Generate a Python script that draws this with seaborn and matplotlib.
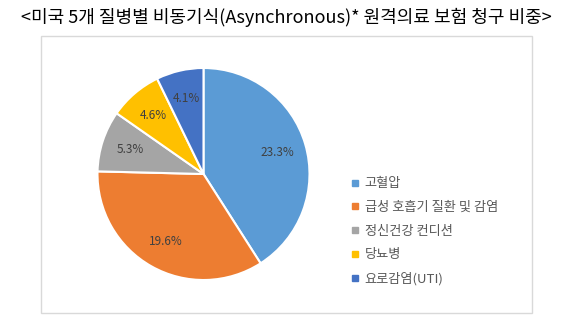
import matplotlib
matplotlib.use("Agg")
import matplotlib.pyplot as plt
import seaborn as sns
from matplotlib.patches import Rectangle
from matplotlib.lines import Line2D

categories = ["고혈압", "급성 호흡기 질환 및 감염", "정신건강 컨디션", "당뇨병", "요로감염(UTI)"]
values = [23.3, 19.6, 5.3, 4.6, 4.1]
value_labels = ["23.3%", "19.6%", "5.3%", "4.6%", "4.1%"]
colors = ["#5B9BD5", "#ED7D31", "#A5A5A5", "#FFC000", "#4472C4"]
title = "<미국 5개 질병별 비동기식(Asynchronous)* 원격의료 보험 청구 비중>"

sns.set_theme(style="white")
plt.rcParams['font.family'] = ['Noto Sans CJK KR', 'DejaVu Sans']

W, H = 571, 320
fig = plt.figure(figsize=(W / 100, H / 100), dpi=100)
fig.patch.set_facecolor("white")

# chart frame
fig.patches.append(Rectangle((40.5 / W, 1 - 312.5 / H), (532 - 40.5) / W, (312.5 - 35.5) / H,
                             transform=fig.transFigure, fill=False,
                             edgecolor="#D9D9D9", linewidth=1.0))

fig.text(286 / W, 1 - 17 / H, title, ha="center", va="center", fontsize=13, color="black")

cx, cy, r = 203.5, 174, 106
ax = fig.add_axes([(cx - r) / W, 1 - (cy + r) / H, 2 * r / W, 2 * r / H])
pal = sns.color_palette(colors)
wedges, texts = ax.pie(values, colors=pal, startangle=90, counterclock=False,
                       wedgeprops=dict(edgecolor="white", linewidth=1.5),
                       labels=value_labels, labeldistance=0.73,
                       textprops=dict(fontsize=8.5, color="#404040", ha="center", va="center"))
for t in texts:
    t.set_ha("center")
    t.set_va("center")
ax.set_xlim(-1, 1)
ax.set_ylim(-1, 1)
ax.set_aspect("equal")
ax.axis("off")

handles = [Line2D([], [], marker="s", linestyle="none", markersize=4,
                  markerfacecolor=c, markeredgecolor=c) for c in colors]
fig.legend(handles, categories, loc="upper left",
           bbox_to_anchor=(352 / W, 1 - 177.5 / H), frameon=False,
           fontsize=9.5, labelcolor="#595959", handlelength=0.5,
           handletextpad=0.45, labelspacing=0.8, borderaxespad=0, borderpad=0)

fig.savefig("out.png", dpi=100, facecolor="white")
